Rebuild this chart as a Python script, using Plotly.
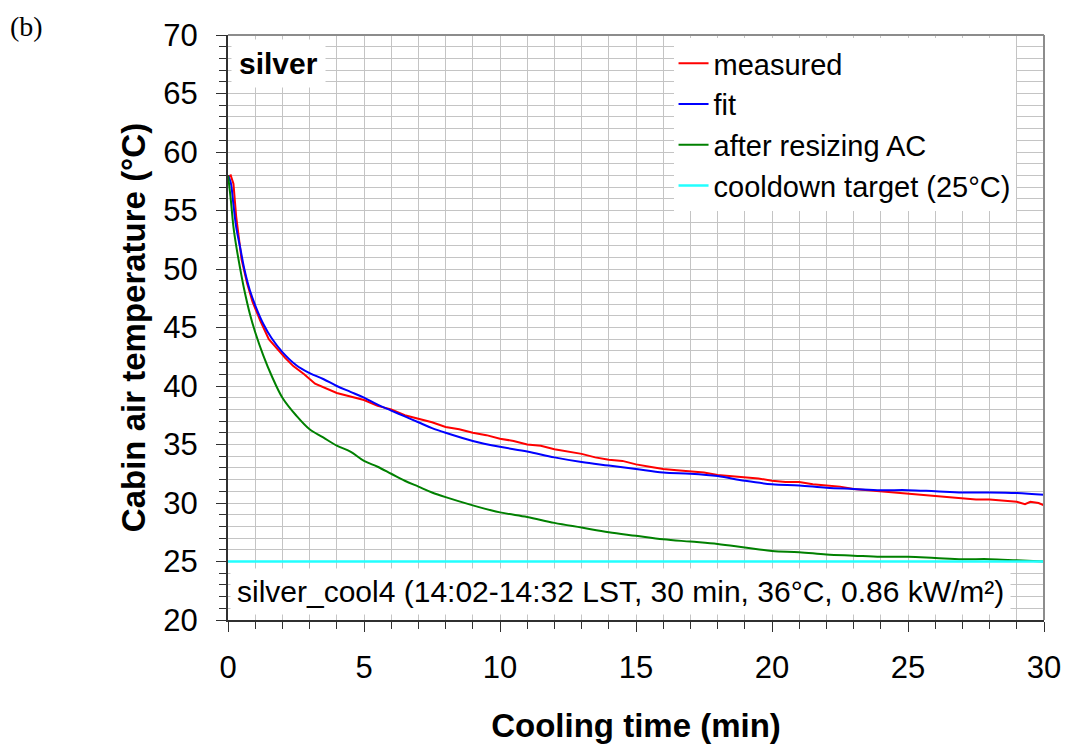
import plotly.graph_objects as go

# cooling time (min) and cabin air temperature (deg C)
measured_t = [0, 0.1, 0.2, 0.3, 0.5, 0.7, 0.9, 1.2, 1.5, 1.8, 2.1, 2.4, 2.8, 3.2, 3.6,
              4.0, 4.5, 5.0, 5.5, 6.0, 6.5, 7.0, 7.5, 8.0, 8.5, 9.0, 9.5, 10.0, 10.5,
              11.0, 11.5, 12.0, 12.5, 13.0, 13.5, 14.0, 14.5, 15.0, 15.5, 16.0, 16.5,
              17.0, 17.5, 18.0, 18.5, 19.0, 19.5, 20.0, 20.5, 21.0, 21.5, 22.0, 22.5,
              23.0, 23.5, 24.0, 24.5, 25.0, 25.5, 26.0, 26.5, 27.0, 27.5, 28.0, 28.5,
              29.0, 29.3, 29.5, 29.8, 30.0]
measured_T = [57.9, 58.0, 57.3, 54.5, 50.8, 48.8, 47.2, 45.5, 44.0, 43.2, 42.4, 41.7, 41.0,
              40.2, 39.8, 39.4, 39.1, 38.8, 38.3, 38.0, 37.5, 37.2, 36.9, 36.5, 36.3, 36.0,
              35.8, 35.5, 35.3, 35.0, 34.9, 34.6, 34.4, 34.2, 33.9, 33.7, 33.6, 33.3, 33.1,
              32.9, 32.8, 32.7, 32.6, 32.4, 32.3, 32.2, 32.1, 31.9, 31.8, 31.8, 31.6, 31.5,
              31.4, 31.2, 31.1, 31.0, 30.9, 30.8, 30.7, 30.6, 30.5, 30.4, 30.3, 30.3, 30.2,
              30.1, 29.9, 30.1, 30.0, 29.8]

fit_t = [0, 0.1, 0.2, 0.3, 0.45, 0.6, 0.8, 1.0, 1.3, 1.6, 2.0, 2.5, 3.0, 3.5, 4.0, 4.5,
         5.0, 5.5, 6.0, 6.5, 7.0, 7.5, 8.0, 9.0, 10.0, 11.0, 12.0, 13.0, 14.0, 15.0, 16.0,
         17.0, 18.0, 19.0, 20.0, 21.0, 22.0, 23.0, 24.0, 25.0, 26.0, 27.0, 28.0, 29.0, 30.0]
fit_T = [58.0, 57.4, 55.5, 53.6, 51.8, 50.0, 48.2, 46.9, 45.3, 44.1, 42.9, 41.8, 41.1,
         40.6, 40.0, 39.5, 39.0, 38.4, 37.9, 37.4, 36.9, 36.4, 36.0, 35.3, 34.8, 34.4,
         33.9, 33.5, 33.2, 32.9, 32.6, 32.5, 32.3, 31.9, 31.6, 31.5, 31.3, 31.2, 31.1,
         31.1, 31.0, 30.9, 30.9, 30.85, 30.7]

resized_t = [0, 0.1, 0.2, 0.3, 0.45, 0.6, 0.8, 1.0, 1.3, 1.6, 2.0, 2.5, 3.0, 3.5, 4.0,
             4.5, 5.0, 5.5, 6.0, 6.5, 7.0, 7.5, 8.0, 9.0, 10.0, 11.0, 12.0, 13.0, 14.0,
             15.0, 16.0, 17.0, 18.0, 19.0, 20.0, 21.0, 22.0, 23.0, 24.0, 25.0, 26.0, 27.0,
             28.0, 29.0, 30.0]
resized_T = [58.0, 56.0, 53.6, 52.0, 50.0, 48.2, 46.2, 44.6, 42.6, 40.9, 39.0, 37.5, 36.3,
             35.6, 34.9, 34.4, 33.6, 33.1, 32.5, 31.9, 31.4, 30.9, 30.5, 29.8, 29.2, 28.8,
             28.3, 27.9, 27.5, 27.2, 26.9, 26.7, 26.5, 26.2, 25.9, 25.8, 25.6, 25.5, 25.4,
             25.4, 25.3, 25.2, 25.2, 25.1, 25.0]

target_t = [0, 30]
target_T = [25, 25]

FONT = "Liberation Sans, Arial, sans-serif"
GRID = "#c4c4c4"

fig = go.Figure()
fig.add_trace(go.Scatter(x=measured_t, y=measured_T, mode="lines", name="measured",
                         line=dict(color="#ff0000", width=2), legendgroup="a"))
fig.add_trace(go.Scatter(x=fit_t, y=fit_T, mode="lines", name="fit",
                         line=dict(color="#0000ff", width=2, shape="spline"), legendgroup="b"))
fig.add_trace(go.Scatter(x=resized_t, y=resized_T, mode="lines", name="after resizing AC",
                         line=dict(color="#008000", width=2, shape="spline"), legendgroup="c"))
fig.add_trace(go.Scatter(x=target_t, y=target_T, mode="lines", name="cooldown target (25°C)",
                         line=dict(color="#22ffff", width=2.5), legendgroup="d"))

axis_common = dict(
    showgrid=True, gridcolor=GRID, gridwidth=1,
    showline=True, linecolor="#303030", linewidth=2,
    ticks="outside", ticklen=10, tickwidth=1, tickcolor="#303030",
    tickfont=dict(family=FONT, size=31, color="black"),
    zeroline=False, automargin=False,
)

fig.update_xaxes(
    range=[0, 30], dtick=5, tick0=0,
    minor=dict(dtick=1, ticks="outside", ticklen=7, tickcolor="#303030",
               showgrid=True, gridcolor=GRID, gridwidth=1),
    ticklabelstandoff=9,
    title=dict(text="<b>Cooling time (min)</b>", font=dict(family=FONT, size=33, color="black"),
               standoff=30),
    **axis_common,
)
fig.update_yaxes(
    range=[20, 70], dtick=5, tick0=20,
    minor=dict(dtick=1, ticks="outside", ticklen=7, tickcolor="#303030",
               showgrid=True, gridcolor=GRID, gridwidth=1),
    ticklabelstandoff=12,
    title=dict(text="<b>Cabin air temperature (°C)</b>", font=dict(family=FONT, size=33, color="black"),
               standoff=8),
    **axis_common,
)

# gray frame on top and right
fig.add_shape(type="line", xref="paper", yref="paper", x0=0, x1=1, y0=1, y1=1,
              line=dict(color="#8c8c8c", width=2))
fig.add_shape(type="line", xref="paper", yref="paper", x0=1, x1=1, y0=0, y1=1,
              line=dict(color="#8c8c8c", width=2))

fig.add_annotation(text="<b>silver</b>", xref="paper", yref="paper", x=0.004, y=0.993,
                   xanchor="left", yanchor="top", showarrow=False, bgcolor="white",
                   borderpad=7, font=dict(family=FONT, size=30, color="black"))
fig.add_annotation(text="silver_cool4 (14:02-14:32 LST, 30 min, 36°C, 0.86 kW/m²)",
                   xref="paper", yref="paper", x=0.003, y=0.009, xanchor="left", yanchor="bottom",
                   showarrow=False, bgcolor="white", borderpad=6,
                   font=dict(family=FONT, size=30, color="black"))
fig.add_annotation(text="(b)", xref="paper", yref="paper", x=-0.27, y=1.045,
                   xanchor="left", yanchor="top", showarrow=False,
                   font=dict(family="Liberation Serif, serif", size=28, color="black"))

# the page adds an 8 px body margin, so the figure is 8 px smaller than the window
fig.update_layout(
    width=1061, height=738,
    margin=dict(l=220, r=25, t=27, b=126),
    paper_bgcolor="white", plot_bgcolor="white",
    font=dict(family=FONT, color="black"),
    legend=dict(x=0.546, y=0.995, xanchor="left", yanchor="top",
                bgcolor="white", borderwidth=0, tracegroupgap=0,
                font=dict(family=FONT, size=29, color="black")),
)

fig.write_html("out.html")
